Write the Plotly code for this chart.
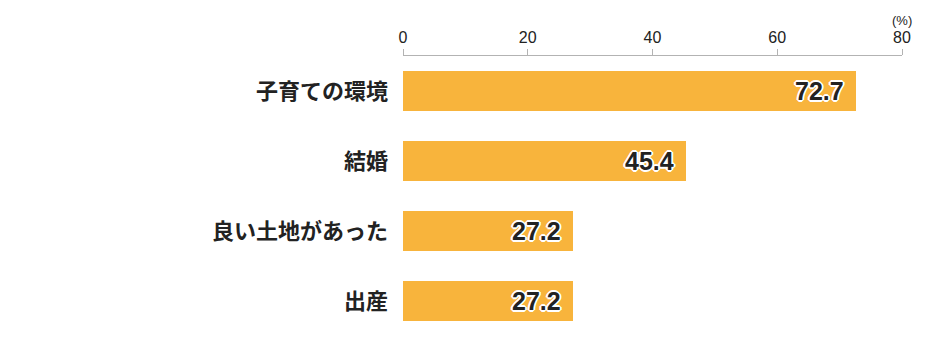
import plotly.graph_objects as go

categories = ["子育ての環境", "結婚", "良い土地があった", "出産"]
values = [72.7, 45.4, 27.2, 27.2]
tick_vals = [0, 20, 40, 60, 80]
tick_text = ["0", "20", "40", "60", "80"]
unit_label = "(%)"

bar_color = "#F8B43C"
text_color = "#222222"
outline = ", ".join(f"{dx}px {dy}px 0 #ffffff" for dx in (-1, 0, 1) for dy in (-1, 0, 1) if dx or dy)
outline += ", 2px 0 0 #fff, -2px 0 0 #fff, 0 2px 0 #fff, 0 -2px 0 #fff"

fig = go.Figure(go.Bar(
    x=values, y=categories, orientation="h",
    marker=dict(color=bar_color, line=dict(width=0)),
    width=0.571,
    hoverinfo="skip",
))

for c, v in zip(categories, values):
    fig.add_annotation(
        x=v, y=c, xref="x", yref="y", text=f"{v:.1f}", showarrow=False,
        xanchor="right", yanchor="middle", xshift=-10,
        font=dict(family="Liberation Sans, Arial, sans-serif", size=25, color=text_color,
                  weight="bold", shadow=outline),
    )

fig.add_annotation(
    x=80, y=1, xref="x", yref="paper", text=unit_label, showarrow=False,
    xanchor="center", yanchor="bottom", yshift=26,
    font=dict(family="Liberation Sans, Arial, sans-serif", size=13, color=text_color),
)

fig.update_layout(
    width=936, height=354,
    margin=dict(l=395, r=42, t=48, b=26),
    paper_bgcolor="white", plot_bgcolor="white",
    showlegend=False,
    bargap=0.0,
    xaxis=dict(
        side="top", range=[0, 80], tickvals=tick_vals, ticktext=tick_text,
        showgrid=False, zeroline=False,
        showline=True, linecolor="#B3B3B3", linewidth=1,
        ticks="outside", ticklen=6, tickcolor="#B3B3B3", tickwidth=1,
        tickfont=dict(family="Liberation Sans, Arial, sans-serif", size=16, color=text_color),
        fixedrange=True,
    ),
    yaxis=dict(
        autorange="reversed", showgrid=False, zeroline=False, showline=False,
        ticks="", ticklabelstandoff=14,
        tickfont=dict(family="Noto Sans CJK JP, sans-serif", size=22, color=text_color, weight="bold"),
        fixedrange=True,
    ),
)

fig.write_html("out.html")
